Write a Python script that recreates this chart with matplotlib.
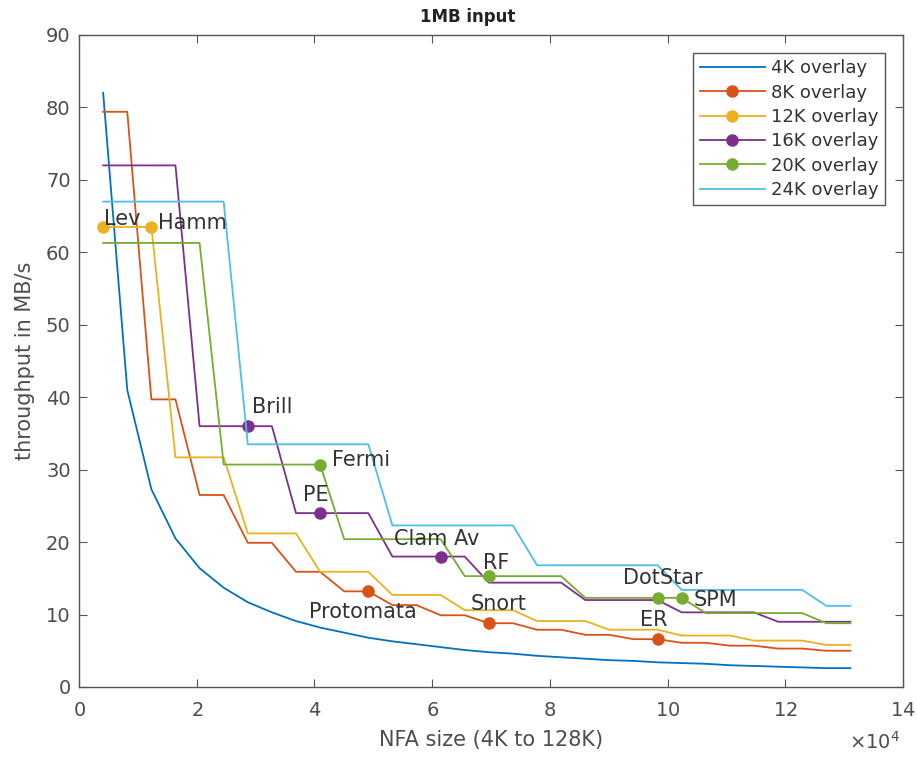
import matplotlib
matplotlib.use('Agg')
import matplotlib.pyplot as plt
from matplotlib.ticker import ScalarFormatter

# NFA size in K (4K steps up to 128K)
nfa_k = [4, 8, 12, 16, 20, 24, 28, 32, 36, 40, 44, 48, 52, 56, 60, 64,
         68, 72, 76, 80, 84, 88, 92, 96, 100, 104, 108, 112, 116, 120, 124, 128]

# throughput in MB/s, one list per overlay size
tp_4k = [82.0, 41.0, 27.3, 20.5, 16.4, 13.7, 11.7, 10.3, 9.1, 8.2, 7.5, 6.8, 6.3, 5.9, 5.5, 5.1,
         4.8, 4.6, 4.3, 4.1, 3.9, 3.7, 3.6, 3.4, 3.3, 3.2, 3.0, 2.9, 2.8, 2.7, 2.6, 2.6]
tp_8k = [79.4, 79.4, 39.7, 39.7, 26.5, 26.5, 19.9, 19.9, 15.9, 15.9, 13.2, 13.2, 11.3, 11.3, 9.9, 9.9,
         8.8, 8.8, 7.9, 7.9, 7.2, 7.2, 6.6, 6.6, 6.1, 6.1, 5.7, 5.7, 5.3, 5.3, 5.0, 5.0]
tp_12k = [63.5, 63.5, 63.5, 31.7, 31.7, 31.7, 21.2, 21.2, 21.2, 15.9, 15.9, 15.9, 12.7, 12.7, 12.7, 10.6,
          10.6, 10.6, 9.1, 9.1, 9.1, 7.9, 7.9, 7.9, 7.1, 7.1, 7.1, 6.4, 6.4, 6.4, 5.8, 5.8]
tp_16k = [72.0, 72.0, 72.0, 72.0, 36.0, 36.0, 36.0, 36.0, 24.0, 24.0, 24.0, 24.0, 18.0, 18.0, 18.0, 18.0,
          14.4, 14.4, 14.4, 14.4, 12.0, 12.0, 12.0, 12.0, 10.3, 10.3, 10.3, 10.3, 9.0, 9.0, 9.0, 9.0]
tp_20k = [61.3, 61.3, 61.3, 61.3, 61.3, 30.7, 30.7, 30.7, 30.7, 30.7, 20.4, 20.4, 20.4, 20.4, 20.4, 15.3,
          15.3, 15.3, 15.3, 15.3, 12.3, 12.3, 12.3, 12.3, 12.3, 10.2, 10.2, 10.2, 10.2, 10.2, 8.8, 8.8]
tp_24k = [67.0, 67.0, 67.0, 67.0, 67.0, 67.0, 33.5, 33.5, 33.5, 33.5, 33.5, 33.5, 22.3, 22.3, 22.3, 22.3,
          22.3, 22.3, 16.8, 16.8, 16.8, 16.8, 16.8, 16.8, 13.4, 13.4, 13.4, 13.4, 13.4, 13.4, 11.2, 11.2]

series_names = ['4K overlay', '8K overlay', '12K overlay', '16K overlay', '20K overlay', '24K overlay']

# benchmark points marked on the curves: (point index, name)
marks_8k = [(11, 'Protomata'), (16, 'Snort'), (23, 'ER')]
marks_12k = [(0, 'Lev'), (2, 'Hamm')]
marks_16k = [(6, 'Brill'), (9, 'PE'), (14, 'Clam Av')]
marks_20k = [(9, 'Fermi'), (16, 'RF'), (23, 'DotStar'), (24, 'SPM')]

# label placement relative to marker, in pixels (left edge, baseline)
label_offset = {
    'Lev': (1, 2), 'Hamm': (7, -2), 'Brill': (4, 13), 'PE': (-17, 12),
    'Clam Av': (-47, 12), 'Fermi': (12, -1), 'RF': (-6, 7), 'Protomata': (-59, -27),
    'Snort': (-18, 13), 'ER': (-18, 13), 'DotStar': (-35, 14), 'SPM': (12, -8),
}

colors = ['#0072BD', '#D95319', '#EDB120', '#7E2F8E', '#77AC30', '#4DBEEE']
text_col = '#4d4d4d'

x = [k * 1024 for k in nfa_k]
all_tp = [tp_4k, tp_8k, tp_12k, tp_16k, tp_20k, tp_24k]
all_marks = [[], marks_8k, marks_12k, marks_16k, marks_20k, []]

fig = plt.figure(figsize=(9.17, 7.59), dpi=100)
ax = fig.add_axes([0.0862, 0.0949, 0.8985, 0.859])

for tp, name, col, marks in zip(all_tp, series_names, colors, all_marks):
    idx = [m[0] for m in marks]
    ax.plot(x, tp, color=col, lw=1.3, label=name,
            marker='o' if idx else None, markevery=idx if idx else None,
            markersize=8, markerfacecolor=col, markeredgecolor=col)
    for i, lbl in marks:
        ax.annotate(lbl, (x[i], tp[i]), xytext=label_offset[lbl], textcoords='offset pixels',
                    ha='left', va='baseline', fontsize=15, color='#333333')

ax.set_xlim(0, 140000)
ax.set_ylim(0, 90)
ax.set_xticks(range(0, 140001, 20000))
ax.set_yticks(range(0, 91, 10))

fmt = ScalarFormatter(useMathText=True)
fmt.set_powerlimits((4, 4))
ax.xaxis.set_major_formatter(fmt)
ax.xaxis.get_offset_text().set_visible(False)
fig.text(0.982, 0.013, r'$\times10^{4}$', ha='right', va='baseline', fontsize=14, color=text_col)

ax.tick_params(direction='in', length=6, top=True, right=True, labelsize=14,
               colors='#555555', labelcolor=text_col)
ax.tick_params(axis='x', pad=10)
ax.tick_params(axis='y', pad=6)
for s in ax.spines.values():
    s.set_color('#555555')
    s.set_linewidth(1.0)

ax.set_xlabel('NFA size (4K to 128K)', fontsize=15, color=text_col, labelpad=7)
ax.set_ylabel('throughput in MB/s', fontsize=15, color=text_col, labelpad=8)
ax.set_title('1MB input', fontsize=12, fontweight='bold', color='#222222', pad=9, x=0.472)

leg = ax.legend(loc='upper right', fontsize=13, handlelength=3.6, handletextpad=0.35,
                labelspacing=0.35, borderpad=0.35, borderaxespad=1.0, fancybox=False,
                framealpha=1)
leg.get_frame().set_edgecolor('#555555')
for t in leg.get_texts():
    t.set_color('#333333')

plt.savefig('out.png', dpi=100)
